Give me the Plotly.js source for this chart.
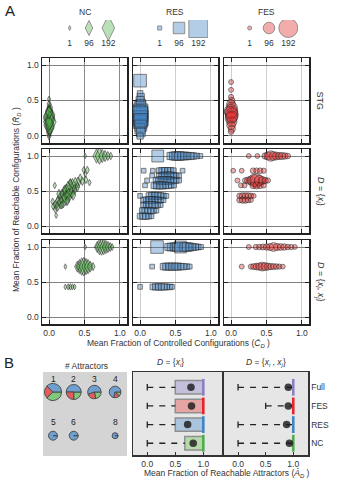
<!DOCTYPE html>
<html>
<head>
<meta charset="utf-8">
<script src="https://cdn.plot.ly/plotly-3.0.1.min.js"></script>
<style>html,body{margin:0;padding:0;background:#fff}</style>
</head>
<body>
<div id="fig" style="width:343px;height:478px"></div>
<script>
(function() {

	// ---- panel A: size legend ----
	var sizeLevels = [1, 96, 192];
	var sizeLabels = ['1', '96', '192'];

	// ---- panel A: STG row ----
	var ncStgX = [0.0, 0.0, 0.01, 0.0, 0.01, 0.0, 0.01, 0.0, 0.01, 0.0, 0.0, 0.01, 0.0, 0.01, 0.0, 0.0];
	var ncStgY = [0.0, 0.05, 0.1, 0.15, 0.2, 0.25, 0.3, 0.35, 0.4, 0.45, 0.52, 0.12, 0.28, 0.22, 0.18, 0.33];
	var ncStgN = [30, 60, 90, 150, 192, 170, 140, 90, 60, 30, 12, 120, 160, 130, 110, 80];

	var resStgX = [0.0, 0.0, 0.01, 0.0, 0.01, 0.0, 0.01, 0.0, 0.01, 0.0, 0.01, 0.0, 0.01, 0.0, 0.0, 0.01];
	var resStgY = [0.78, 0.6, 0.55, 0.5, 0.45, 0.4, 0.35, 0.3, 0.25, 0.2, 0.15, 0.1, 0.05, 0.0, 0.32, 0.22];
	var resStgN = [110, 20, 40, 50, 70, 100, 130, 150, 140, 120, 100, 80, 60, 30, 140, 120];

	var fesStgX = [0.0, 0.0, 0.0, 0.01, 0.0, 0.01, 0.0, 0.01, 0.0, 0.01, 0.0, 0.01, 0.0, 0.0, 0.01];
	var fesStgY = [0.76, 0.65, 0.55, 0.5, 0.45, 0.4, 0.35, 0.3, 0.25, 0.2, 0.15, 0.1, 0.06, 0.33, 0.27];
	var fesStgN = [12, 12, 15, 30, 60, 90, 120, 115, 100, 80, 60, 40, 20, 110, 100];

	// ---- panel A: D = {x_i} row ----
	var ncSingX = [0.51, 0.67, 0.71, 0.75, 0.79, 0.83, 0.87, 0.49, 0.54, 0.51, 0.08,
		0.44, 0.47, 0.52, 0.57, 0.41, 0.37, 0.33, 0.30, 0.27, 0.24, 0.21, 0.18, 0.15, 0.12, 0.09, 0.06,
		0.05, 0.09, 0.12, 0.16, 0.20, 0.24, 0.28, 0.32, 0.36, 0.40, 0.14, 0.22, 0.30, 0.26, 0.18, 0.10, 0.34];
	var ncSingY = [1.0, 1.0, 1.0, 1.0, 1.0, 1.0, 1.0, 0.80, 0.80, 0.74, 0.58,
		0.68, 0.64, 0.66, 0.62, 0.62, 0.60, 0.57, 0.54, 0.51, 0.48, 0.45, 0.42, 0.38, 0.34, 0.30, 0.28,
		0.35, 0.24, 0.28, 0.33, 0.36, 0.40, 0.44, 0.48, 0.52, 0.56, 0.46, 0.52, 0.62, 0.36, 0.30, 0.15, 0.44];
	var ncSingN = [4, 90, 110, 80, 60, 40, 25, 20, 25, 10, 15,
		40, 35, 25, 15, 60, 80, 100, 120, 130, 110, 100, 90, 80, 60, 40, 25,
		20, 30, 50, 70, 90, 100, 90, 70, 50, 40, 40, 40, 30, 40, 30, 8, 50];

	var resSingX = [
		0.25, 0.43, 0.47, 0.51, 0.55, 0.59, 0.63, 0.67, 0.71, 0.75, 0.80, 0.85,
		0.05, 0.18, 0.27, 0.31, 0.35, 0.39, 0.43, 0.47, 0.60,
		0.17, 0.27, 0.31, 0.35, 0.39, 0.43, 0.47, 0.51, 0.55,
		0.10, 0.23, 0.27, 0.31, 0.35, 0.39, 0.43, 0.47, 0.51, 0.55,
		0.07, 0.20, 0.24, 0.28, 0.32, 0.36, 0.40, 0.44, 0.48,
		0.00, 0.13, 0.17, 0.21, 0.25, 0.29, 0.33, 0.37,
		0.05, 0.09, 0.13, 0.17, 0.21, 0.25, 0.29, 0.33,
		0.05, 0.09, 0.13, 0.17, 0.21, 0.25, 0.29,
		0.03, 0.07, 0.11, 0.15, 0.19, 0.23,
		0.00, 0.04, 0.08, 0.12, 0.16];
	var resSingY = [
		1.0, 1.0, 1.0, 1.0, 1.0, 1.0, 1.0, 1.0, 1.0, 1.0, 1.0, 1.0,
		0.79, 0.79, 0.79, 0.79, 0.79, 0.79, 0.79, 0.79, 0.79,
		0.72, 0.72, 0.72, 0.72, 0.72, 0.72, 0.72, 0.72, 0.72,
		0.65, 0.65, 0.65, 0.65, 0.65, 0.65, 0.65, 0.65, 0.65, 0.65,
		0.58, 0.58, 0.58, 0.58, 0.58, 0.58, 0.58, 0.58, 0.58,
		0.43, 0.43, 0.43, 0.43, 0.43, 0.43, 0.43, 0.43,
		0.37, 0.37, 0.37, 0.37, 0.37, 0.37, 0.37, 0.37,
		0.30, 0.30, 0.30, 0.30, 0.30, 0.30, 0.30,
		0.22, 0.22, 0.22, 0.22, 0.22, 0.22,
		0.14, 0.14, 0.14, 0.14, 0.14];
	var resSingN = [
		100, 40, 50, 60, 60, 50, 50, 40, 40, 30, 20, 10,
		8, 8, 20, 30, 30, 30, 30, 20, 8,
		8, 20, 30, 40, 40, 40, 30, 20, 10,
		10, 30, 40, 50, 50, 50, 40, 30, 20, 10,
		8, 30, 40, 40, 40, 30, 30, 20, 10,
		8, 30, 40, 40, 40, 30, 20, 10,
		20, 30, 40, 40, 30, 30, 20, 10,
		20, 30, 40, 40, 30, 20, 10,
		20, 30, 30, 30, 20, 10,
		20, 30, 30, 20, 10];

	var fesSingX = [
		0.25, 0.37, 0.48, 0.52, 0.56, 0.60, 0.64, 0.68, 0.72, 0.76, 0.80,
		0.03, 0.15, 0.31, 0.36, 0.41, 0.46,
		0.09, 0.20, 0.24, 0.28, 0.32, 0.36, 0.40, 0.44, 0.48, 0.52,
		0.14, 0.19, 0.31, 0.36, 0.41, 0.46,
		0.12, 0.16, 0.20, 0.24, 0.28, 0.32,
		0.12, 0.16, 0.20, 0.24, 0.28];
	var fesSingY = [
		1.0, 1.0, 1.0, 1.0, 1.0, 1.0, 1.0, 1.0, 1.0, 1.0, 1.0,
		0.79, 0.79, 0.79, 0.79, 0.79, 0.79,
		0.65, 0.65, 0.65, 0.65, 0.65, 0.65, 0.65, 0.65, 0.65, 0.65,
		0.58, 0.58, 0.58, 0.58, 0.58, 0.58,
		0.43, 0.43, 0.43, 0.43, 0.43, 0.43,
		0.37, 0.37, 0.37, 0.37, 0.37];
	var fesSingN = [
		10, 10, 30, 50, 80, 60, 50, 40, 40, 30, 20,
		10, 10, 20, 20, 20, 15,
		12, 20, 40, 60, 100, 120, 80, 50, 30, 15,
		12, 12, 30, 40, 30, 15,
		20, 30, 30, 30, 20, 10,
		20, 30, 30, 20, 10];

	// ---- panel A: D = {x_i, x_j} row ----
	var ncPairX = [0.51, 0.68, 0.71, 0.74, 0.77, 0.80, 0.83, 0.86, 0.89,
		0.23, 0.40, 0.43, 0.46, 0.49, 0.52, 0.55, 0.58, 0.62,
		0.23, 0.27, 0.30, 0.33, 0.36];
	var ncPairY = [1.0, 1.0, 1.0, 1.0, 1.0, 1.0, 1.0, 1.0, 1.0,
		0.72, 0.72, 0.72, 0.72, 0.72, 0.72, 0.72, 0.72, 0.72,
		0.43, 0.43, 0.43, 0.43, 0.43];
	var ncPairN = [5, 60, 100, 110, 100, 80, 60, 40, 20,
		6, 60, 90, 120, 130, 110, 90, 60, 30,
		8, 12, 15, 12, 8];

	var resPairX = [0.24, 0.40, 0.44, 0.48, 0.52, 0.57, 0.62, 0.66, 0.70, 0.74, 0.78, 0.82, 0.86,
		0.17, 0.33, 0.37, 0.41, 0.45, 0.49, 0.53, 0.57, 0.61, 0.66, 0.70,
		0.00, 0.18, 0.22, 0.26, 0.30, 0.34, 0.38, 0.42, 0.45];
	var resPairY = [1.0, 1.0, 1.0, 1.0, 1.0, 1.0, 1.0, 1.0, 1.0, 1.0, 1.0, 1.0, 1.0,
		0.72, 0.72, 0.72, 0.72, 0.72, 0.72, 0.72, 0.72, 0.72, 0.72, 0.72,
		0.43, 0.43, 0.43, 0.43, 0.43, 0.43, 0.43, 0.43, 0.43];
	var resPairN = [110, 40, 50, 50, 60, 100, 60, 60, 50, 40, 30, 20, 10,
		8, 30, 40, 40, 40, 40, 40, 30, 30, 20, 10,
		8, 20, 30, 30, 30, 30, 20, 20, 10];

	var fesPairX = [0.25, 0.35, 0.40, 0.45, 0.50, 0.55, 0.60, 0.65, 0.70, 0.75, 0.80, 0.85, 0.90,
		0.15, 0.28, 0.32, 0.36, 0.40, 0.44, 0.48, 0.52, 0.56, 0.60, 0.64, 0.68, 0.73];
	var fesPairY = [1.0, 1.0, 1.0, 1.0, 1.0, 1.0, 1.0, 1.0, 1.0, 1.0, 1.0, 1.0, 1.0,
		0.72, 0.72, 0.72, 0.72, 0.72, 0.72, 0.72, 0.72, 0.72, 0.72, 0.72, 0.72, 0.72];
	var fesPairN = [12, 15, 20, 25, 30, 40, 60, 40, 35, 30, 20, 15, 10,
		12, 15, 25, 35, 45, 60, 50, 40, 30, 25, 20, 15, 10];

	// ---- panel B: attractor pies ----
	var attractorCounts = [1, 2, 3, 4, 5, 6, 8];
	var pieTotals = [72, 56, 45, 34, 20, 20, 9];
	var pieNC = [0.38, 0.25, 0.22, 0.12, 0, 0, 0];
	var pieRES = [0.38, 0.50, 0.56, 0.72, 1, 1, 1];
	var pieFES = [0.24, 0.25, 0.22, 0.16, 0, 0, 0];

	// ---- panel B: reachable attractors ----
	var bCats = ['Full', 'FES', 'RES', 'NC'];
	var singleLo = [0, 0, 0, 0];
	var singleQ1 = [0.5, 0.5, 0.5, 0.67];
	var singleMed = [1, 1, 1, 1];
	var singleQ3 = [1, 1, 1, 1];
	var singleMean = [0.78, 0.79, 0.72, 0.82];
	var pairLo = [0, 0.5, 0, 0];
	var pairQ1 = [1, 1, 1, 1];
	var pairMed = [1, 1, 1, 1];
	var pairQ3 = [1, 1, 1, 1];
	var pairMean = [0.91, 0.91, 0.88, 0.93];

	// ---- styles ----
	var W = 343, H = 478;
	var groupStyle = {
		NC: {symbol: 'diamond-tall', fill: 'rgba(79,177,71,0.55)', edge: 'rgba(40,40,40,0.85)', base: 3.5, span: 14.5},
		RES: {symbol: 'square', fill: 'rgba(59,128,195,0.55)', edge: 'rgba(40,40,40,0.85)', base: 4, span: 15},
		FES: {symbol: 'circle', fill: 'rgba(226,40,40,0.55)', edge: 'rgba(40,40,40,0.85)', base: 4, span: 15}
	};
	var medColors = ['#8c7fc4', '#e8242a', '#3d85c6', '#4cae4c'];
	var boxFills = ['#c4c0dc', '#e6a5a5', '#abc4dd', '#b7d8ab'];
	var pieColors = ['#7fc77b', '#6f9fd1', '#e45d5d'];

	function dom(a, b) { return [a / W, b / W]; }
	function vdom(top, bot) { return [1 - bot / H, 1 - top / H]; }
	function axId(i) { return i === 1 ? '' : String(i); }
	function msize(g, n) { var s = groupStyle[g]; return s.base + s.span * n / 192; }

	var layout = {
		width: W, height: H,
		margin: {l: 0, r: 0, t: 0, b: 0},
		paper_bgcolor: '#fff',
		plot_bgcolor: 'rgba(0,0,0,0)',
		showlegend: false,
		barmode: 'overlay',
		font: {family: 'Liberation Sans, Arial, sans-serif', size: 8.5, color: '#333'},
		annotations: [],
		shapes: []
	};
	var data = [];

	function note(text, x, y, extra) {
		var a = {text: text, x: x / W, y: 1 - y / H, xref: 'paper', yref: 'paper', showarrow: false,
			xanchor: 'center', yanchor: 'middle', font: {size: 8.5, color: '#333'}};
		for (var k in extra) a[k] = extra[k];
		layout.annotations.push(a);
	}

	// ---- panel A scatter grid ----
	var groups = ['NC', 'RES', 'FES'];
	var panelSets = [
		[[ncStgX, ncStgY, ncStgN], [resStgX, resStgY, resStgN], [fesStgX, fesStgY, fesStgN]],
		[[ncSingX, ncSingY, ncSingN], [resSingX, resSingY, resSingN], [fesSingX, fesSingY, fesSingN]],
		[[ncPairX, ncPairY, ncPairN], [resPairX, resPairY, resPairN], [fesPairX, fesPairY, fesPairN]]
	];
	var colEdges = [[42, 127], [133, 218], [224, 309]];
	var rowEdges = [[58, 143], [149, 233], [240, 324]];

	for (var r = 0; r < 3; r++) {
		for (var c = 0; c < 3; c++) {
			var i = r * 3 + c + 1, id = axId(i), g = groups[c], st = groupStyle[g];
			var set = panelSets[r][c];
			data.push({
				type: 'scatter', mode: 'markers', x: set[0], y: set[1],
				xaxis: 'x' + id, yaxis: 'y' + id, hoverinfo: 'skip', cliponaxis: true,
				marker: {symbol: st.symbol, size: set[2].map(function(n) { return msize(g, n); }),
					color: st.fill, line: {color: st.edge, width: 1}}
			});
			layout['xaxis' + id] = {
				domain: dom(colEdges[c][0], colEdges[c][1]), anchor: 'y' + id, range: [-0.1, 1.1],
				tickvals: [0, 0.5, 1], ticktext: ['0.0', '0.5', '1.0'], showticklabels: r === 2,
				ticks: 'inside', ticklen: 4, tickcolor: '#222', showgrid: true,
				gridcolor: c === 0 ? '#8a8a8a' : '#cfcfcf', gridwidth: 1, zeroline: false,
				showline: true, mirror: 'ticks', linecolor: '#222', linewidth: 1.5,
				tickfont: {size: 8.5, color: '#333'}
			};
			layout['yaxis' + id] = {
				domain: vdom(rowEdges[r][0], rowEdges[r][1]), anchor: 'x' + id, range: [-0.1, 1.1],
				tickvals: [0, 0.5, 1], ticktext: ['0.0', '0.5', '1.0'], showticklabels: c === 0,
				ticks: 'inside', ticklen: 4, tickcolor: '#222', showgrid: true,
				gridcolor: '#808080', gridwidth: 1, zeroline: false,
				showline: true, mirror: 'ticks', linecolor: '#222', linewidth: 1.5,
				tickfont: {size: 8.5, color: '#333'}
			};
		}
	}

	// ---- panel A size legend ----
	var legendEdges = [[60, 118], [150, 208], [240, 298]];
	var legendCenters = [85, 175, 266];
	for (var k = 0; k < 3; k++) {
		var li = 10 + k, lid = axId(li), lg = groups[k], ls = groupStyle[lg];
		data.push({
			type: 'scatter', mode: 'markers', x: sizeLabels, y: [1, 1, 1],
			xaxis: 'x' + lid, yaxis: 'y' + lid, hoverinfo: 'skip',
			marker: {symbol: ls.symbol, size: sizeLevels.map(function(n) { return msize(lg, n); }),
				color: ls.fill, line: {color: 'rgba(70,70,70,0.8)', width: 1}}
		});
		data.push({
			type: 'scatter', mode: 'text', x: sizeLabels, y: [0, 0, 0], text: sizeLabels,
			xaxis: 'x' + lid, yaxis: 'y' + lid, hoverinfo: 'skip',
			textfont: {size: 8.5, color: '#333'}
		});
		layout['xaxis' + lid] = {domain: dom(legendEdges[k][0], legendEdges[k][1]), anchor: 'y' + lid,
			type: 'category', range: [-0.5, 2.5], visible: false};
		layout['yaxis' + lid] = {domain: vdom(20, 52), anchor: 'x' + lid, range: [-0.5, 1.5], visible: false};
		note(lg, legendCenters[k], 12);
	}

	// ---- panel B pies ----
	layout.shapes.push({type: 'rect', xref: 'paper', yref: 'paper', layer: 'below',
		x0: 43 / W, x1: 127 / W, y0: 1 - 456 / H, y1: 1 - 372 / H,
		fillcolor: '#d4d4d4', line: {width: 0}});
	attractorCounts.forEach(function(n, j) {
		var col = (n - 1) % 4, row = Math.floor((n - 1) / 4);
		var cx = 53 + col * 20.7, cy = 392 + row * 43.7, rad = Math.sqrt(pieTotals[j]);
		data.push({
			type: 'pie', values: [pieNC[j], pieRES[j], pieFES[j]], labels: ['NC', 'RES', 'FES'],
			sort: false, direction: 'counterclockwise', rotation: 90, textinfo: 'none', hoverinfo: 'skip',
			marker: {colors: pieColors, line: {color: '#4d4d4d', width: 1}},
			domain: {x: dom(cx - rad, cx + rad), y: vdom(cy - rad, cy + rad)}
		});
		note(String(n), cx, cy - 13.5, {font: {size: 8.5, color: '#222'}});
	});
	note('# Attractors', 86, 365.5);

	// ---- panel B box summaries ----
	var bSets = [
		{lo: singleLo, q1: singleQ1, med: singleMed, q3: singleQ3, mean: singleMean, ax: 13, edge: [133, 222], range: [-0.255, 1.334]},
		{lo: pairLo, q1: pairQ1, med: pairMed, q3: pairQ3, mean: pairMean, ax: 14, edge: [224, 308], range: [-0.255, 1.267]}
	];
	var idx = bCats.map(function(_, j) { return j; });
	bSets.forEach(function(s, p) {
		var bid = axId(s.ax), xr = 'x' + bid, yr = 'y' + bid;
		layout.shapes.push({type: 'rect', xref: 'paper', yref: 'paper', layer: 'below',
			x0: s.edge[0] / W, x1: s.edge[1] / W, y0: 1 - 455 / H, y1: 1 - 372 / H,
			fillcolor: '#e6e6e6', line: {width: 0}});
		// box between quartiles
		data.push({
			type: 'bar', orientation: 'h', y: idx, x: s.q3.map(function(v, j) { return v - s.q1[j]; }),
			base: s.q1, width: 0.72, xaxis: xr, yaxis: yr, hoverinfo: 'skip',
			marker: {color: boxFills, line: {color: '#8f8f8f', width: 1.5}}
		});
		// dashed whiskers
		var wx = [], wy = [], cx2 = [], cy2 = [];
		idx.forEach(function(j) {
			wx.push(s.lo[j], s.q1[j], null); wy.push(j, j, null);
			cx2.push(s.lo[j], s.lo[j], null); cy2.push(j - 0.17, j + 0.17, null);
		});
		data.push({type: 'scatter', mode: 'lines', x: wx, y: wy, xaxis: xr, yaxis: yr, hoverinfo: 'skip',
			line: {color: '#222', width: 1.3, dash: '6px,6px'}});
		data.push({type: 'scatter', mode: 'lines', x: cx2, y: cy2, xaxis: xr, yaxis: yr, hoverinfo: 'skip',
			line: {color: '#222', width: 1.3}});
		// medians
		idx.forEach(function(j) {
			data.push({type: 'scatter', mode: 'lines', x: [s.med[j], s.med[j]], y: [j - 0.45, j + 0.45],
				xaxis: xr, yaxis: yr, hoverinfo: 'skip', line: {color: medColors[j], width: 2.6}});
		});
		// means
		data.push({type: 'scatter', mode: 'markers', x: s.mean, y: idx, xaxis: xr, yaxis: yr, hoverinfo: 'skip',
			marker: {color: '#1c1c1c', opacity: 0.82, size: 7.5}});

		layout['xaxis' + bid] = {
			domain: dom(s.edge[0], s.edge[1]), anchor: yr, range: s.range,
			tickvals: [0, 0.5, 1], ticktext: ['0.0', '0.5', '1.0'], ticks: 'inside', ticklen: 3,
			tickcolor: '#333', showgrid: false, zeroline: false, showline: true, mirror: true,
			linecolor: '#333', linewidth: 1.5, tickfont: {size: 8.5, color: '#333'}
		};
		layout['yaxis' + bid] = {
			domain: vdom(372, 455), anchor: xr, range: [3.63, -0.82],
			tickvals: idx, ticktext: bCats, showticklabels: p === 1, side: p === 1 ? 'right' : 'left',
			ticks: '', showgrid: false, zeroline: false, showline: true, mirror: true,
			linecolor: '#333', linewidth: 1.5, tickfont: {size: 8.5, color: '#333'}
		};
	});

	// ---- titles and labels ----
	note('A', 10, 10, {font: {size: 15, color: '#222'}});
	note('B', 9, 362, {font: {size: 15, color: '#222'}});
	note('STG', 319, 100.5, {textangle: 90, font: {size: 9, color: '#333'}});
	note('<i>D</i> = {<i>x<sub>i</sub></i>}', 320, 191, {textangle: 90, font: {size: 9, color: '#333'}});
	note('<i>D</i> = {<i>x<sub>i</sub></i>, <i>x<sub>j</sub></i>}', 320, 282, {textangle: 90, font: {size: 9, color: '#333'}});
	note('Mean Fraction of Controlled Configurations (<i>C\u0304</i><sub><i>D</i></sub> )', 178, 343);
	note('Mean Fraction of Reachable Configurations (<i>R\u0304</i><sub><i>D</i></sub> )', 16, 200, {textangle: -90});
	note('<i>D</i> = {<i>x<sub>i</sub></i>}', 170, 362);
	note('<i>D</i> = {<i>x<sub>i</sub></i> , <i>x<sub>j</sub></i>}', 266, 362);
	note('Mean Fraction of Reachable Attractors (<i>A\u0304</i><sub><i>D</i></sub> )', 227, 473);

	Plotly.newPlot('fig', data, layout, {displayModeBar: false, staticPlot: true});

})();
</script>
</body>
</html>
